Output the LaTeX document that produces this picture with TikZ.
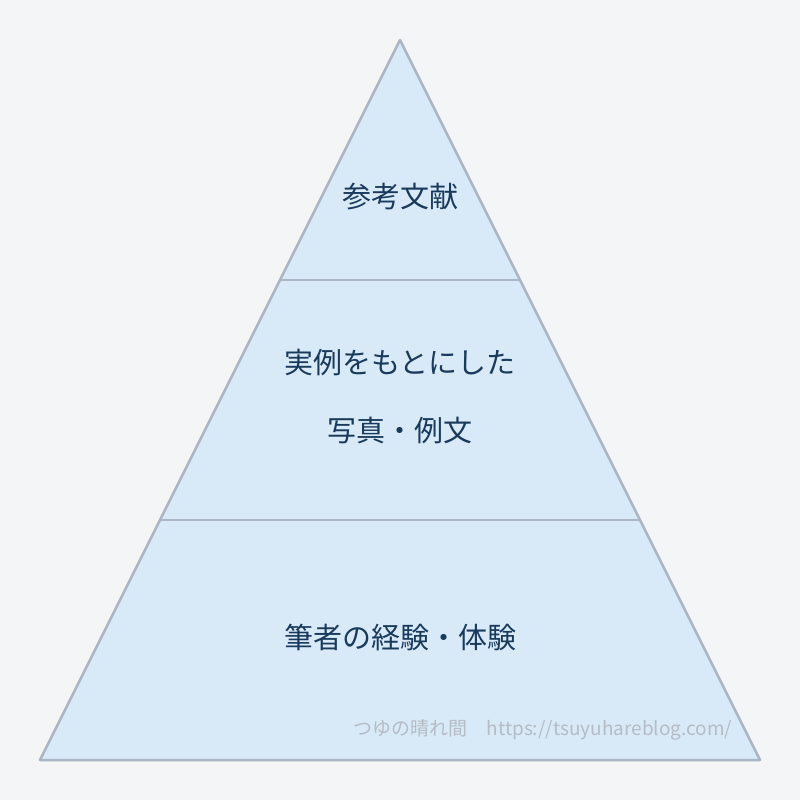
\documentclass[tikz,border=0pt]{standalone}
\usepackage{fontspec}
\setmainfont{Noto Sans CJK JP}
\definecolor{bg}{HTML}{F4F5F7}
\definecolor{tri}{HTML}{D8EAF8}
\definecolor{edge}{HTML}{AAB6C4}
\definecolor{txt}{HTML}{1A3A5C}
\definecolor{wm}{HTML}{B4BCC6}
\tikzset{lbl/.style={text=txt,font=\fontsize{29}{34}\selectfont,inner sep=0}}
\begin{document}
\begin{tikzpicture}[x=1pt,y=-1pt]
\fill[bg] (0,0) rectangle (800,800);
\useasboundingbox (0,0) rectangle (800,800);
\coordinate (A) at (400,40);
\coordinate (L) at (40,760);
\coordinate (R) at (760,760);
\coordinate (a1) at (280,280); \coordinate (b1) at (520,280);
\coordinate (a2) at (160,520); \coordinate (b2) at (640,520);
\draw[edge,fill=tri,line width=2.5pt,line join=round] (A) -- (R) -- (L) -- cycle;
\draw[edge,line width=2.5pt] (a1) -- (b1);
\draw[edge,line width=2.5pt] (a2) -- (b2);
\node[lbl] (t1) at (400,197) {参考文献};
\node[lbl] (t2) at (400,363) {実例をもとにした};
\node[lbl] (t3) at (400,430) {写真・例文};
\node[lbl] (t4) at (400,637) {筆者の経験・体験};
\node[text=wm,font=\fontsize{19}{22}\selectfont,inner sep=0] (w) at (543,730) {つゆの晴れ間\quad https://tsuyuhareblog.com/};
\end{tikzpicture}
\end{document}
